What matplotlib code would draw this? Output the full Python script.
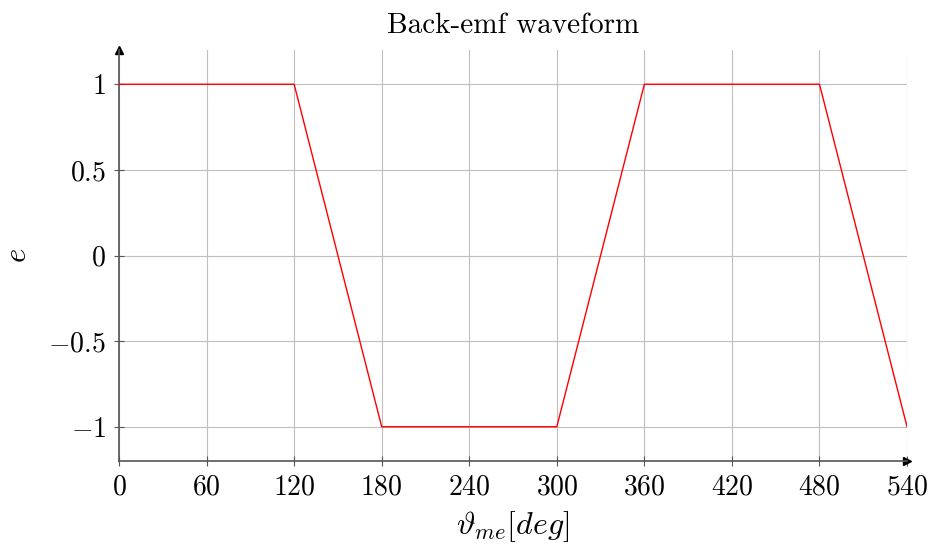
import numpy as np
import matplotlib
matplotlib.use('Agg')
import matplotlib.pyplot as plt

plt.rcParams['font.family'] = 'serif'
plt.rcParams['font.serif'] = ['cmr10']
plt.rcParams['mathtext.fontset'] = 'cm'
plt.rcParams['axes.formatter.use_mathtext'] = True

# trapezoidal back-emf over 1.5 electrical periods
theta = [0, 120, 180, 300, 360, 480, 540]
emf = [1, 1, -1, -1, 1, 1, -1]
xticks = [0, 60, 120, 180, 240, 300, 360, 420, 480, 540]
yticks = [-1, -0.5, 0, 0.5, 1]
ytick_labels = [r'$-1$', r'$-0.5$', r'$0$', r'$0.5$', r'$1$']

fig = plt.figure(figsize=(9.3, 5.49), dpi=100)
ax = fig.add_axes([0.128, 0.1603, 0.8473, 0.7486])

ax.plot(theta, emf, color='red', lw=1.0, zorder=3)

ax.set_xlim(0, 540)
ax.set_ylim(-1.2, 1.2)
ax.set_xticks(xticks)
ax.set_xticklabels([r'$%d$' % t for t in xticks])
ax.set_yticks(yticks)
ax.set_yticklabels(ytick_labels)
ax.tick_params(direction='inout', length=7, width=0.8, color='#555555',
               labelsize=20, pad=6)
ax.grid(True, color='#bfbfbf', lw=0.8)

for side in ['top', 'right']:
    ax.spines[side].set_visible(False)
for side in ['left', 'bottom']:
    ax.spines[side].set_color('#555555')
    ax.spines[side].set_linewidth(1.2)

# arrow heads on the axes
ax.plot(1, 0, '>', color='black', ms=6, transform=ax.transAxes, clip_on=False)
ax.plot(0, 1, '^', color='black', ms=6, transform=ax.transAxes, clip_on=False)

ax.set_title('Back-emf waveform', fontsize=21, pad=12)
ax.set_xlabel(r'$\vartheta_{me} [deg]$', fontsize=23, labelpad=6)
ax.set_ylabel(r'$e$', fontsize=22, labelpad=12)

fig.savefig('out.png', dpi=100)
